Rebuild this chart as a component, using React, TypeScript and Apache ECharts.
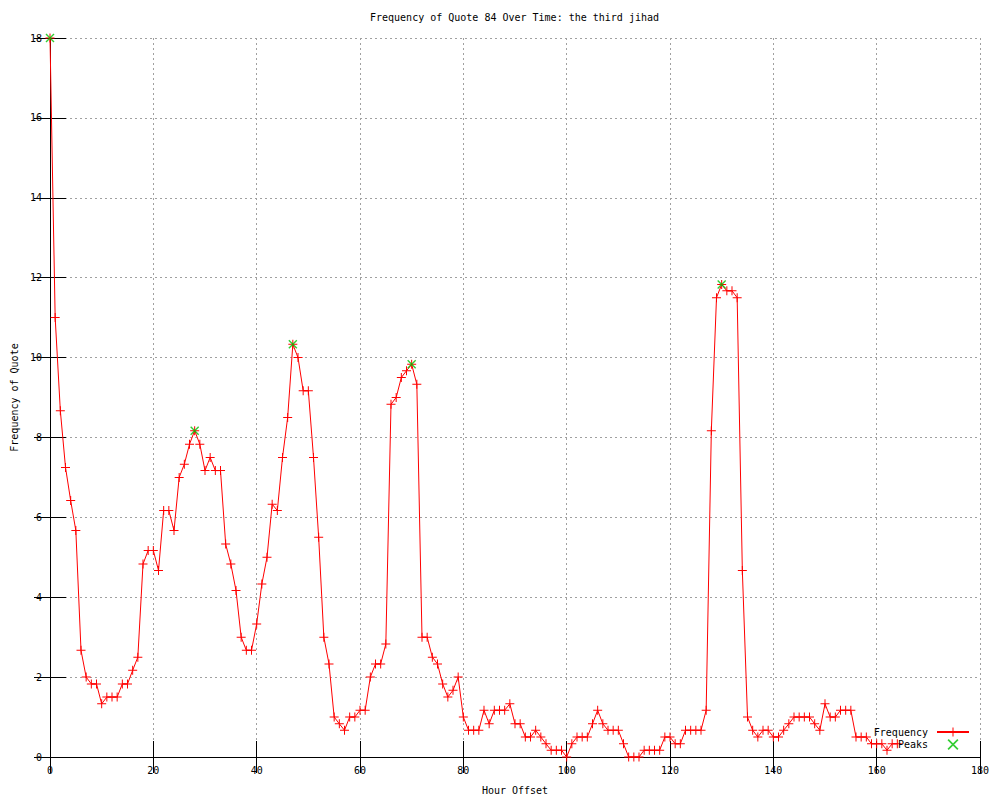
import React, { useEffect, useRef } from "react";
import * as echarts from "echarts";

const TITLE = "Frequency of Quote 84 Over Time: the third jihad";
const X_NAME = "Hour Offset";
const Y_NAME = "Frequency of Quote";

// hour offsets 0..164
const hours: number[] = Array.from({ length: 165 }, (_, i) => i);

const frequency: number[] = [
  18, 11, 8.67, 7.25, 6.42, 5.67, 2.67, 2.0, 1.83, 1.83,
  1.33, 1.5, 1.5, 1.5, 1.83, 1.83, 2.17, 2.5, 4.83, 5.17,
  5.17, 4.67, 6.17, 6.17, 5.67, 7.0, 7.33, 7.83, 8.17, 7.83,
  7.17, 7.5, 7.17, 7.17, 5.33, 4.83, 4.17, 3.0, 2.67, 2.67,
  3.33, 4.33, 5.0, 6.33, 6.17, 7.5, 8.5, 10.33, 10.0, 9.17,
  9.17, 7.5, 5.5, 3.0, 2.33, 1.0, 0.83, 0.67, 1.0, 1.0,
  1.17, 1.17, 2.0, 2.33, 2.33, 2.83, 8.83, 9.0, 9.5, 9.67,
  9.83, 9.33, 3.0, 3.0, 2.5, 2.33, 1.83, 1.5, 1.67, 2.0,
  1.0, 0.67, 0.67, 0.67, 1.17, 0.83, 1.17, 1.17, 1.17, 1.33,
  0.83, 0.83, 0.5, 0.5, 0.67, 0.5, 0.33, 0.17, 0.17, 0.17,
  0, 0.33, 0.5, 0.5, 0.5, 0.83, 1.17, 0.83, 0.67, 0.67,
  0.67, 0.33, 0, 0, 0, 0.17, 0.17, 0.17, 0.17, 0.5,
  0.5, 0.33, 0.33, 0.67, 0.67, 0.67, 0.67, 1.17, 8.17, 11.5,
  11.83, 11.67, 11.67, 11.5, 4.67, 1.0, 0.67, 0.5, 0.67, 0.67,
  0.5, 0.5, 0.67, 0.83, 1.0, 1.0, 1.0, 1.0, 0.83, 0.67,
  1.33, 1.0, 1.0, 1.17, 1.17, 1.17, 0.5, 0.5, 0.5, 0.33,
  0.33, 0.33, 0.17, 0.33, 0.33,
];

const peakHours: number[] = [0, 28, 47, 70, 130];
const peakValues: number[] = [18, 8.17, 10.33, 9.83, 11.83];

const xTicks = { min: 0, max: 180, interval: 20 };
const yTicks = { min: 0, max: 18, interval: 2 };

const FONT = "'DejaVu Sans Mono', monospace";
const PLUS = "path://M4,0 L5,0 L5,4 L9,4 L9,5 L5,5 L5,9 L4,9 L4,5 L0,5 L0,4 L4,4 Z";
const CROSS = "path://M0,1 L1,0 L9,8 L8,9 Z M8,0 L9,1 L1,9 L0,8 Z";

export default function App() {
  const ref = useRef<HTMLDivElement>(null);
  useEffect(() => {
    if (!ref.current) return;
    const chart = echarts.init(ref.current, undefined, { renderer: "svg" });
    const tickStyle = { show: true, inside: true, length: 16, lineStyle: { color: "#000", width: 1 } };
    const axisLine = { show: true, lineStyle: { color: "#000", width: 1 } };
    const labelStyle = { fontFamily: FONT, fontSize: 10, color: "#000" };
    const split = { show: true, lineStyle: { color: "#a0a0a0", width: 1, type: [2, 3] as any } };
    chart.setOption({
      animation: false,
      backgroundColor: "#fff",
      title: {
        text: TITLE,
        left: 370,
        top: 12,
        padding: 0,
        textStyle: { fontFamily: FONT, fontSize: 10, fontWeight: "normal", color: "#000" },
      },
      grid: { left: 50, right: 20, top: 38, bottom: 40, containLabel: false },
      legend: {
        orient: "vertical",
        right: 30,
        top: 727,
        align: "right",
        itemWidth: 32,
        itemHeight: 11,
        itemGap: 2,
        padding: 0,
        textStyle: { fontFamily: FONT, fontSize: 10, color: "#000", padding: [0, 4, 0, 0] },
        data: ["Frequency", "Peaks"],
      },
      xAxis: [
        {
          type: "value",
          position: "bottom",
          ...xTicks,
          name: X_NAME,
          nameLocation: "middle",
          nameGap: 28,
          nameTextStyle: labelStyle,
          axisLine,
          axisTick: tickStyle,
          axisLabel: { ...labelStyle, margin: 8 },
          splitLine: split,
        },
        {
          type: "value",
          position: "top",
          ...xTicks,
          axisLine,
          axisTick: tickStyle,
          axisLabel: { show: false },
          splitLine: { show: false },
        },
      ],
      yAxis: [
        {
          type: "value",
          position: "left",
          ...yTicks,
          name: Y_NAME,
          nameLocation: "middle",
          nameGap: 31,
          nameTextStyle: labelStyle,
          axisLine,
          axisTick: tickStyle,
          axisLabel: { ...labelStyle, margin: 8 },
          splitLine: split,
        },
        {
          type: "value",
          position: "right",
          ...yTicks,
          axisLine,
          axisTick: tickStyle,
          axisLabel: { show: false },
          splitLine: { show: false },
        },
      ],
      series: [
        {
          name: "Frequency",
          type: "line",
          xAxisIndex: 0,
          yAxisIndex: 0,
          data: hours.map((h, i) => [h, frequency[i]]),
          symbol: PLUS,
          symbolSize: 9,
          showAllSymbol: true,
          clip: false,
          lineStyle: { color: "#ff0000", width: 1 },
          itemStyle: { color: "#ff0000" },
          z: 3,
        },
        {
          name: "Peaks",
          type: "scatter",
          xAxisIndex: 0,
          yAxisIndex: 0,
          data: peakHours.map((h, i) => [h, peakValues[i]]),
          symbol: CROSS,
          symbolSize: 9,
          symbolKeepAspect: true,
          clip: false,
          itemStyle: { color: "#00c000" },
          z: 4,
        },
      ],
    });
    return () => chart.dispose();
  }, []);
  return <div ref={ref} style={{ position: "absolute", left: 0, top: 0, width: 1000, height: 800 }} />;
}
